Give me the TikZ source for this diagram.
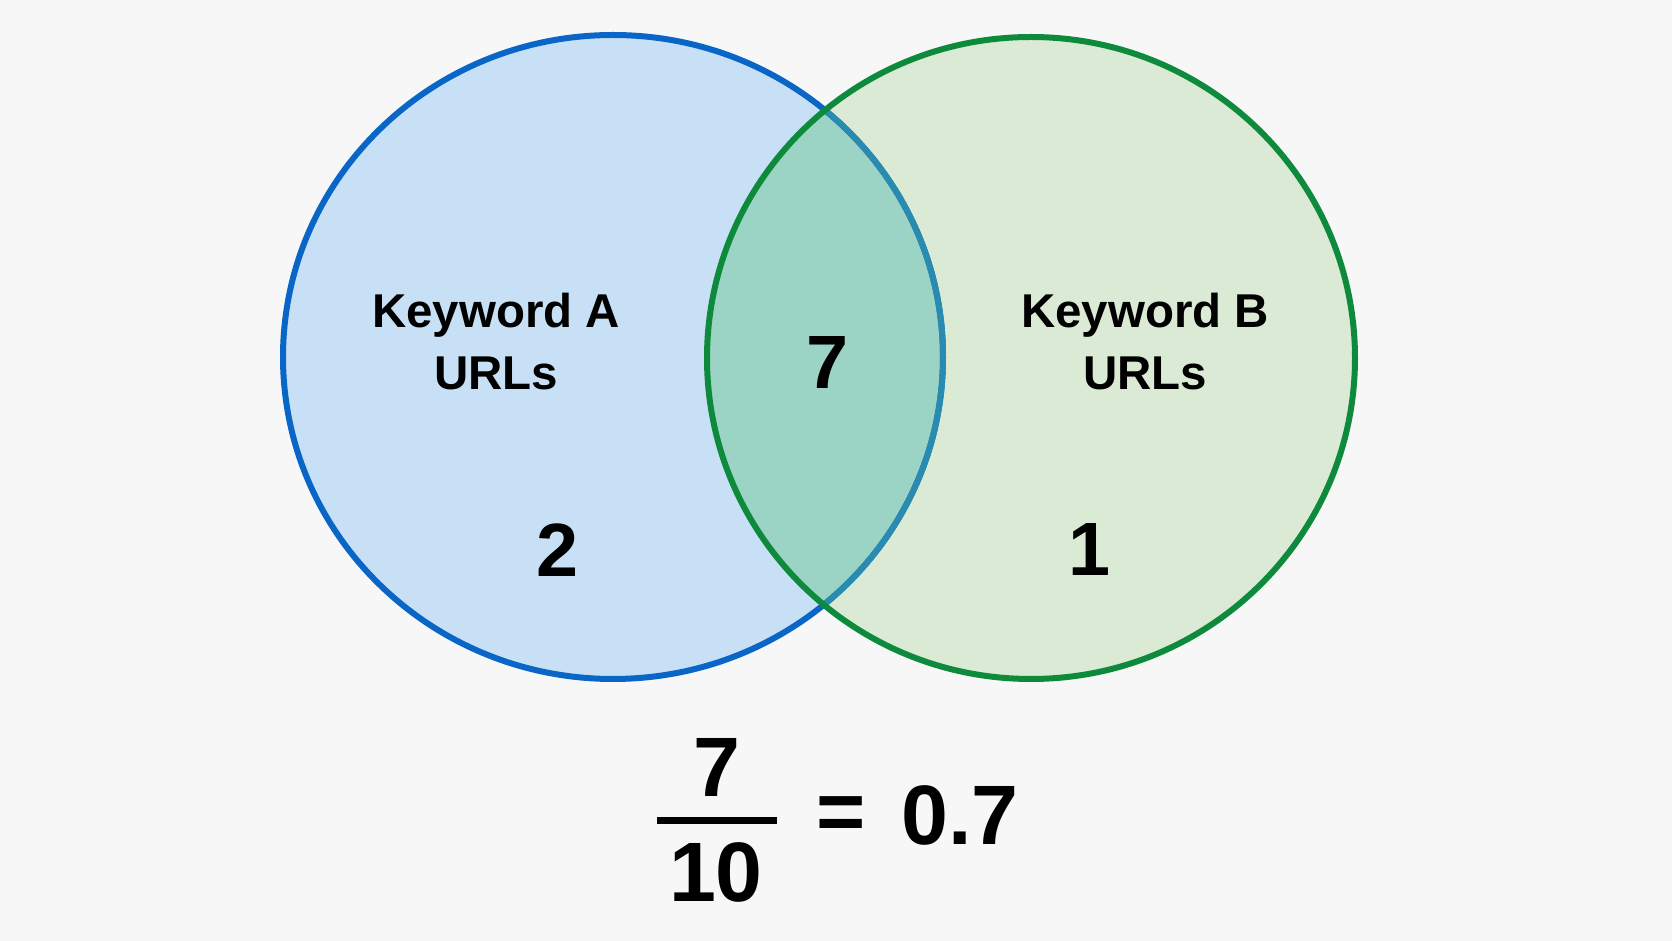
\documentclass[tikz,border=0pt]{standalone}
\usepackage{fontspec}
\usepackage{xcolor}
\usepackage{tikz}
\setmainfont{Liberation Sans}

\definecolor{bgcol}{HTML}{F7F7F7}
\definecolor{afill}{HTML}{C8E0F6}
\definecolor{aline}{HTML}{0A66C6}
\definecolor{bfill}{HTML}{DAEAD4}
\definecolor{bline}{HTML}{0E8A3C}
\definecolor{abfill}{HTML}{9BD3C4}
\definecolor{abline}{HTML}{2A8BB0}

\begin{document}
\begin{tikzpicture}[x=0.1mm,y=-0.1mm,
    label node/.style={anchor=base,inner sep=0pt,font=\fontsize{13.5}{16}\selectfont\bfseries},
    count node/.style={inner sep=0pt,font=\fontsize{21.5}{24}\selectfont\bfseries},
    frac node/.style={inner sep=0pt,font=\fontsize{24}{28}\selectfont\bfseries},
    ring/.style={line width=0.6mm}]
        \fill[bgcol] (0,0) rectangle (1672,941);
        \useasboundingbox (0,0) rectangle (1672,941);
        \coordinate (A) at (613,357);
        \coordinate (B) at (1031,358);
        % the two sets
        \fill[afill] (A) ellipse [x radius=33mm, y radius=32.2mm];
        \fill[bfill] (B) ellipse [x radius=32.4mm, y radius=32.1mm];
        \begin{scope}
          \clip (A) ellipse [x radius=33mm, y radius=32.2mm];
          \fill[abfill] (B) ellipse [x radius=32.4mm, y radius=32.1mm];
        \end{scope}
        \draw[ring,aline] (A) ellipse [x radius=33mm, y radius=32.2mm];
        \begin{scope}
          \clip (B) ellipse [x radius=32.4mm, y radius=32.1mm];
          \draw[ring,abline] (A) ellipse [x radius=33mm, y radius=32.2mm];
        \end{scope}
        \draw[ring,bline] (B) ellipse [x radius=32.4mm, y radius=32.1mm];
        % labels and counts
        \node[label node] (a1) at (496,328) {Keyword A};
        \node[label node] (a2) at (496,390) {URLs};
        \node[label node] (b1) at (1145,328) {Keyword B};
        \node[label node] (b2) at (1145,390) {URLs};
        \node[count node] (nA) at (558,550) {2};
        \node[count node] (nAB) at (828,363) {7};
        \node[count node] (nB) at (1090,550) {1};
        % the ratio
        \node[frac node] (num) at (717,767) {7};
        \node[frac node] (den) at (716,872) {10};
        \coordinate (barL) at (657,821);
        \coordinate (barR) at (777,821);
        \draw[line width=0.7mm] (barL) -- (barR);
        \node[frac node] (eq) at (841,819) {=};
        \node[frac node] (res) at (960,815) {0.7};
      \end{tikzpicture}
\end{document}
